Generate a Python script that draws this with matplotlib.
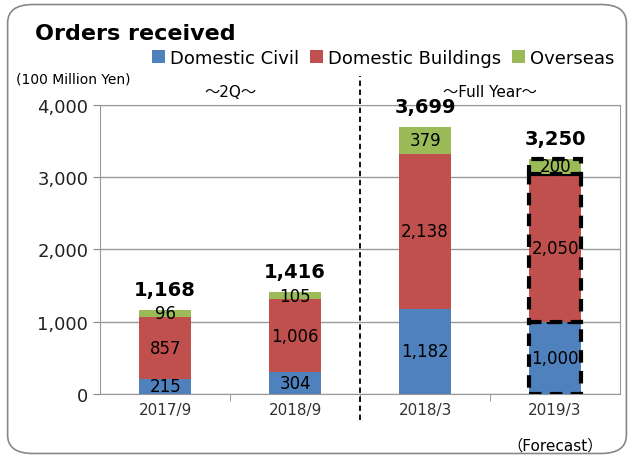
import matplotlib.pyplot as plt
import numpy as np
from matplotlib.patches import FancyBboxPatch

plt.rcParams['font.family'] = ['DejaVu Sans', 'Noto Sans CJK JP']

categories = ["2017/9", "2018/9", "2018/3", "2019/3"]
civil = [215, 304, 1182, 1000]
buildings = [857, 1006, 2138, 2050]
overseas = [96, 105, 379, 200]
totals = [1168, 1416, 3699, 3250]
civil_lbl = ["215", "304", "1,182", "1,000"]
build_lbl = ["857", "1,006", "2,138", "2,050"]
over_lbl = ["96", "105", "379", "200"]
total_lbl = ["1,168", "1,416", "3,699", "3,250"]
yticks = [0, 1000, 2000, 3000, 4000]
ytick_lbl = ["0", "1,000", "2,000", "3,000", "4,000"]

blue, red, green = "#4F81BD", "#C0504D", "#9BBB59"

fig = plt.figure(figsize=(6.34, 4.6), dpi=100)
fig.patches.append(FancyBboxPatch((0.012, 0.012), 0.976, 0.976, boxstyle="round,pad=0,rounding_size=0.04",
                                  transform=fig.transFigure, fill=False, ec="#888888", lw=1.2))
ax = fig.add_axes([0.158, 0.141, 0.820, 0.629])

x = np.arange(len(categories))
w = 0.4
b1 = ax.bar(x, civil, w, color=blue, label="Domestic Civil", zorder=3)
b2 = ax.bar(x, buildings, w, bottom=civil, color=red, label="Domestic Buildings", zorder=3)
bot3 = np.array(civil) + np.array(buildings)
b3 = ax.bar(x, overseas, w, bottom=bot3, color=green, label="Overseas", zorder=3)

# forecast bar outlined with dashes
for bars in (b1, b2, b3):
    p = bars[3]
    p.set_edgecolor("black")
    p.set_linestyle((0, (3, 2)))
    p.set_linewidth(3)

for i in range(len(categories)):
    ax.text(x[i], civil[i] / 2, civil_lbl[i], ha="center", va="center", fontsize=12, zorder=5)
    ax.text(x[i], civil[i] + buildings[i] / 2, build_lbl[i], ha="center", va="center", fontsize=12, zorder=5)
    ax.text(x[i], bot3[i] + overseas[i] / 2, over_lbl[i], ha="center", va="center", fontsize=12, zorder=5)
    ax.text(x[i], totals[i] + 150, total_lbl[i], ha="center", va="bottom", fontsize=14, fontweight="bold", zorder=5)

ax.set_xlim(-0.5, 3.5)
ax.set_ylim(0, 4000)
ax.set_yticks(yticks)
ax.set_yticklabels(ytick_lbl, fontsize=13, color="#222222")
ax.set_xticks(x)
ax.set_xticklabels(categories, fontsize=11, color="#333333")
ax.tick_params(axis="x", length=0, pad=6)
ax.tick_params(axis="y", length=5, color="#888888")
ax.set_xticks([0.5, 1.5, 2.5], minor=True)
ax.tick_params(axis="x", which="minor", length=5, color="#888888")
ax.grid(axis="y", color="#999999", lw=1, zorder=0)
for s in ax.spines.values():
    s.set_color("#999999")

ax.plot([1.5, 1.5], [-0.09, 1.1], transform=ax.get_xaxis_transform(), color="black",
        ls=(0, (3, 2)), lw=1.3, clip_on=False, zorder=6)

ax.text(0.5, 1.02, "～2Q～", transform=ax.get_xaxis_transform(), ha="center", va="bottom", fontsize=11)
ax.text(2.5, 1.02, "～Full Year～", transform=ax.get_xaxis_transform(), ha="center", va="bottom", fontsize=11)
ax.text(3, -0.15, "（Forecast）", transform=ax.get_xaxis_transform(), ha="center", va="top", fontsize=11)

fig.text(0.055, 0.925, "Orders received", fontsize=16, fontweight="bold", va="center")
fig.text(0.025, 0.828, "(100 Million Yen)", fontsize=10, va="center")
fig.legend(handles=[b1, b2, b3], loc="center right", bbox_to_anchor=(0.995, 0.872), ncol=3, frameon=False,
           fontsize=13, handlelength=0.7, handleheight=0.7, handletextpad=0.3, columnspacing=0.6)

fig.savefig("out.png", dpi=100)
